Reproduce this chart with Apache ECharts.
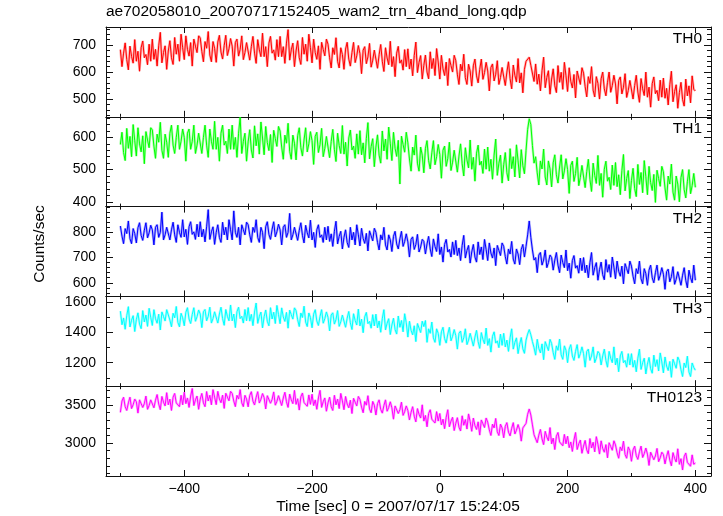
<!DOCTYPE html>
<html><head><meta charset="utf-8">
<script src="https://cdn.jsdelivr.net/npm/echarts@6/dist/echarts.min.js"></script>
<style>html,body{margin:0;padding:0;background:#fff}#c{width:723px;height:516px}</style>
</head><body><div id="c"></div>
<script>
// time grid of the light curve (sec from 2007/07/17 15:24:05)
const tStart = -500, tStep = 2.5;

const th0 = [
683,620,670,708,646,608,696,658,633,720,
640,677,603,690,715,653,665,627,703,640,
722,647,684,622,697,747,634,672,697,610,
678,716,653,628,728,666,703,640,740,690,
646,734,684,659,709,622,722,696,672,734,
726,676,638,713,688,750,663,638,713,688,
636,711,736,674,648,698,736,661,686,724,
696,622,709,722,659,684,734,646,672,709,
707,644,694,732,670,632,720,682,657,744,
657,694,620,707,732,670,682,644,720,657,
732,657,694,632,707,757,644,682,707,620,
678,716,653,628,728,666,703,640,740,690,
634,722,672,647,697,610,710,684,660,722,
703,653,615,690,665,727,640,615,690,665,
610,685,710,648,622,672,710,635,660,698,
668,594,681,694,631,656,706,618,644,681,
677,614,664,702,640,602,690,652,627,714,
620,657,583,670,695,633,645,607,683,620,
686,611,648,586,661,711,598,636,661,574,
625,663,600,575,675,613,650,587,687,637,
574,662,612,587,637,550,650,624,600,662,
642,592,554,629,604,666,579,554,629,604,
548,623,648,586,560,610,648,573,598,636,
604,530,617,630,567,592,642,554,580,617,
613,550,600,638,576,538,626,588,563,650,
560,597,523,610,640,640,655,625,622,565,
630,555,592,530,605,655,542,580,605,518,
574,612,549,524,624,562,599,536,636,586,
528,616,566,541,591,504,604,578,554,616,
596,546,508,583,558,620,533,508,583,558,
500,575,600,538,512,562,600,525,550,588,
556,482,569,582,519,544,594,506,532,569,
563,500,550,588,526,488,576,538,513,600,
507,544,470,557,582,520,532,494,570,507,
578,503,540,478,553,603,490,528,553,466,
524,562,499,474,574,512,549,486,586,536,
530];

const th1 = [
578,616,553,528,628,566,603,540,640,590,
542,630,580,555,605,518,618,592,568,630,
623,573,535,610,585,647,560,535,610,585,
538,613,638,576,550,600,638,563,588,626,
600,526,613,626,563,588,638,550,576,613,
613,550,600,638,576,538,626,588,563,650,
563,600,526,613,638,576,588,550,626,563,
638,563,600,538,613,663,550,588,613,526,
586,624,561,536,636,574,611,548,648,598,
546,634,584,559,609,522,622,596,572,634,
620,570,532,607,582,644,557,532,607,582,
530,605,630,568,542,592,630,555,580,618,
590,516,603,616,553,578,628,540,566,603,
600,537,587,625,563,525,613,575,550,637,
548,585,511,598,623,561,573,535,611,548,
621,546,583,521,596,646,533,571,596,509,
570,608,545,520,620,558,595,532,632,582,
528,616,566,541,591,455,604,578,554,616,
583,533,495,570,545,607,520,495,570,545,
490,565,590,528,502,552,590,515,540,578,
547,473,560,573,510,535,585,497,523,560,
555,492,542,580,518,480,568,530,505,592,
501,538,464,551,576,514,526,488,564,501,
570,495,532,470,545,595,482,520,545,458,
515,553,490,465,565,503,540,477,577,527,
474,562,512,487,560,625,658,640,575,520,
540,490,452,527,502,564,477,452,527,502,
446,521,546,484,458,508,546,471,496,534,
500,426,513,526,463,488,538,450,476,513,
507,444,494,532,470,432,520,482,457,544,
451,488,414,501,526,464,476,438,514,451,
522,447,484,422,497,547,434,472,497,410,
466,504,441,416,516,454,491,428,528,478,
422,510,460,435,485,398,498,472,448,510,
493,443,405,480,455,517,430,405,480,455,
400,475,500,438,412,462,500,425,450,488,
445];

const th2 = [
825,785,755,815,795,845,775,755,815,795,
758,818,838,788,768,808,838,778,798,828,
810,750,820,830,780,800,880,770,790,820,
820,770,810,840,790,760,830,800,780,850,
782,812,752,822,842,792,802,772,832,782,
842,782,812,762,822,890,772,802,822,752,
800,830,780,760,840,790,820,770,850,810,
770,885,800,780,820,750,830,810,790,840,
830,790,760,820,800,850,780,760,820,800,
735,822,842,792,772,812,842,782,802,832,
810,750,820,830,780,800,875,770,790,820,
818,768,808,838,788,758,828,798,778,848,
770,800,740,810,830,780,790,760,820,770,
824,764,794,744,804,844,754,784,804,734,
780,810,760,740,820,770,800,750,830,790,
746,816,776,756,796,726,806,786,766,816,
800,760,730,790,770,820,750,730,790,770,
724,784,804,754,734,774,804,744,764,794,
762,702,772,782,732,752,792,722,742,772,
764,714,754,784,734,704,774,744,724,794,
712,742,682,752,772,722,732,702,762,712,
768,708,738,688,748,788,698,728,748,678,
722,752,702,682,762,712,742,692,772,732,
688,758,718,698,738,668,748,728,708,758,
744,704,674,734,714,764,694,674,734,714,
672,732,752,702,745,790,845,780,730,690,
700,640,710,720,670,690,730,660,680,710,
700,650,690,720,670,640,710,680,660,730,
648,678,618,688,708,658,668,638,698,648,
700,640,670,620,680,720,630,660,680,610,
652,682,632,612,692,642,672,622,702,662,
616,686,646,626,666,596,676,656,636,686,
666,626,596,656,636,686,616,596,656,636,
590,650,670,620,600,640,670,610,630,660,
634,574,644,654,604,624,664,594,614,644,
640,590,630,660,610,580,650,620,600,670,
610];

const th3 = [
1542,1452,1497,1422,1512,1572,1437,1482,1512,1407,
1486,1531,1456,1426,1546,1471,1516,1441,1561,1501,
1447,1552,1492,1462,1522,1417,1537,1507,1477,1552,
1543,1483,1438,1528,1498,1573,1468,1438,1528,1498,
1445,1535,1565,1490,1460,1520,1565,1475,1505,1550,
1523,1433,1538,1553,1478,1508,1568,1463,1493,1538,
1538,1463,1523,1568,1493,1448,1553,1508,1478,1583,
1478,1523,1433,1538,1568,1493,1508,1463,1553,1478,
1566,1476,1521,1446,1536,1596,1461,1506,1536,1431,
1505,1550,1475,1445,1565,1490,1535,1460,1580,1520,
1459,1564,1504,1474,1534,1429,1549,1519,1489,1564,
1545,1485,1440,1530,1500,1575,1470,1440,1530,1500,
1432,1522,1552,1477,1447,1507,1552,1462,1492,1537,
1501,1411,1516,1531,1456,1486,1546,1441,1471,1516,
1510,1435,1495,1540,1465,1420,1525,1480,1450,1555,
1444,1489,1399,1504,1534,1459,1474,1429,1519,1444,
1522,1432,1477,1402,1492,1552,1417,1462,1492,1387,
1450,1495,1420,1390,1510,1435,1480,1405,1525,1465,
1370,1475,1415,1385,1445,1340,1460,1430,1400,1475,
1440,1480,1335,1425,1395,1470,1365,1335,1425,1395,
1315,1405,1435,1360,1330,1390,1435,1345,1375,1420,
1380,1290,1395,1410,1335,1365,1425,1320,1350,1395,
1385,1310,1370,1415,1340,1295,1400,1355,1325,1430,
1315,1360,1270,1375,1405,1330,1345,1300,1390,1315,
1395,1305,1350,1275,1365,1425,1290,1335,1365,1260,
1322,1367,1292,1262,1350,1390,1420,1385,1340,1300,
1250,1355,1295,1265,1325,1220,1340,1310,1280,1355,
1327,1267,1222,1312,1282,1357,1252,1222,1312,1282,
1200,1290,1320,1245,1215,1275,1320,1230,1260,1305,
1260,1170,1275,1290,1215,1245,1305,1200,1230,1275,
1260,1185,1245,1290,1215,1170,1275,1230,1200,1305,
1185,1230,1140,1245,1275,1200,1215,1170,1260,1185,
1260,1170,1215,1140,1230,1290,1155,1200,1230,1125,
1190,1235,1160,1130,1250,1175,1220,1145,1265,1205,
1133,1238,1178,1148,1208,1103,1223,1193,1163,1238,
1213,1153,1108,1198,1168,1243,1138,1108,1198,1168,
1150];

const th0123 = [
3405,3555,3605,3480,3430,3530,3605,3455,3505,3580,
3545,3395,3570,3595,3470,3520,3620,3445,3495,3570,
3590,3465,3565,3640,3515,3440,3615,3540,3490,3665,
3505,3580,3430,3605,3655,3530,3555,3480,3630,3505,
3670,3520,3595,3470,3620,3720,3495,3570,3620,3445,
3580,3655,3530,3480,3680,3555,3630,3505,3705,3605,
3507,3682,3582,3532,3632,3457,3657,3607,3557,3682,
3655,3555,3480,3630,3580,3705,3530,3480,3630,3580,
3478,3628,3678,3553,3503,3603,3678,3528,3578,3653,
3600,3450,3625,3650,3525,3575,3675,3500,3550,3625,
3620,3495,3595,3670,3545,3470,3645,3570,3520,3695,
3510,3585,3435,3610,3660,3535,3560,3485,3635,3510,
3645,3495,3570,3445,3595,3695,3470,3545,3595,3420,
3530,3605,3480,3430,3630,3505,3580,3455,3655,3555,
3440,3615,3515,3465,3565,3390,3590,3540,3490,3615,
3575,3475,3400,3550,3500,3625,3450,3400,3550,3500,
3370,3520,3570,3445,3395,3495,3570,3420,3470,3545,
3465,3315,3490,3515,3390,3440,3540,3365,3415,3490,
3430,3305,3405,3480,3355,3280,3455,3380,3330,3505,
3290,3365,3215,3390,3440,3315,3340,3265,3415,3290,
3390,3240,3315,3190,3340,3440,3215,3290,3340,3165,
3260,3335,3210,3160,3360,3235,3310,3185,3385,3285,
3155,3330,3230,3180,3280,3105,3305,3255,3205,3330,
3275,3175,3100,3250,3200,3325,3150,3100,3250,3200,
3070,3220,3270,3145,3095,3195,3270,3120,3170,3245,
3175,3025,3200,3225,3260,3380,3450,3370,3240,3110,
3130,3005,3105,3180,3055,2980,3155,3080,3030,3205,
2990,3065,2915,3090,3140,3015,3040,2965,3115,2990,
3090,2940,3015,2890,3040,3140,2915,2990,3040,2865,
2960,3035,2910,2860,3060,2935,3010,2885,3085,2985,
2855,3030,2930,2880,2980,2805,3005,2955,2905,3030,
2975,2875,2800,2950,2900,3025,2850,2800,2950,2900,
2760,2910,2960,2835,2785,2885,2960,2810,2860,2935,
2855,2705,2880,2905,2780,2830,2930,2755,2805,2880,
2850,2725,2825,2900,2775,2700,2875,2800,2750,2925,
2720,2795,2645,2820,2870,2745,2770,2695,2845,2720,
2740];

const panelNames = ['TH0','TH1','TH2','TH3','TH0123'];
const panelColors = ['#ff0000','#00ff00','#0000ff','#00ffff','#ff00ff'];
const xMajor = [-400,-200,0,200,400];
const xMinor = [-500,-300,-100,100,300];
const yMajor = [[500,600,700],[400,500,600],[600,700,800],[1200,1400,1600],[3000,3500]];
const yMinor = [
  [440,460,480,520,540,560,580,620,640,660,680,720,740,760],
  [420,440,460,480,520,540,560,580,620,640,660],
  [560,580,620,640,660,680,720,740,760,780,820,840,860,880,900],
  [1100,1300,1500],
  [2600,2700,2800,2900,3100,3200,3300,3400,3600,3700]];
const yRange = [[434.4,766.7],[385,664],[546,902],[1044,1640],[2566,3750]];
const xRange = [-522.5,424.5];

const seriesVals = [th0, th1, th2, th3, th0123];

const FONT = 'Liberation Sans, Arial, Helvetica, sans-serif';
const AX = '#111';
const L = 106, R = 711, TOP = 27, PH = 89.8;

const grid = [], xAxis = [], yAxis = [], series = [], graphic = [];
for (let i = 0; i < 5; i++) {
  const top = TOP + i * PH;
  grid.push({left: L, width: R - L, top: top, height: PH});
  const xBase = {gridIndex: i, type: 'value', min: xRange[0], max: xRange[1],
    splitLine: {show: false}, axisLabel: {show: false}};
  const mkX = (pos, vals, len, line, lab) => Object.assign({}, xBase, {
    position: pos,
    axisLine: {show: line, onZero: false, lineStyle: {color: AX, width: 1}},
    axisTick: {show: true, inside: true, length: len, customValues: vals, lineStyle: {color: AX, width: 1}},
    axisLabel: lab ? {show: true, customValues: xMajor, color: '#000', fontSize: 14, fontFamily: FONT, margin: 6,
      formatter: v => String(v).replace('-', '\u2212')} : {show: false}
  });
  const xi = xAxis.length;
  xAxis.push(mkX('bottom', xMajor, 6, true, i === 4));
  xAxis.push(mkX('bottom', xMinor, 3, false, false));
  xAxis.push(mkX('top', xMajor, 6, true, false));
  xAxis.push(mkX('top', xMinor, 3, false, false));
  const yBase = {gridIndex: i, type: 'value', min: yRange[i][0], max: yRange[i][1], splitLine: {show: false}};
  const mkY = (pos, vals, len, line, lab) => Object.assign({}, yBase, {
    position: pos,
    axisLine: {show: line, onZero: false, lineStyle: {color: AX, width: 1}},
    axisTick: {show: true, inside: true, length: len, customValues: vals, lineStyle: {color: AX, width: 1}},
    axisLabel: lab ? {show: true, customValues: yMajor[i], color: '#000', fontSize: 14, fontFamily: FONT, margin: 10,
      formatter: v => String(v)} : {show: false}
  });
  const yi = yAxis.length;
  yAxis.push(mkY('left', yMajor[i], 7, true, true));
  yAxis.push(mkY('left', yMinor[i], 4, false, false));
  yAxis.push(mkY('right', yMajor[i], 7, true, false));
  yAxis.push(mkY('right', yMinor[i], 4, false, false));

  const data = seriesVals[i].map((v, k) => [tStart + k * tStep, v]);
  series.push({type: 'line', xAxisIndex: xi, yAxisIndex: yi, data: data, showSymbol: false, silent: true,
    lineStyle: {color: panelColors[i], width: 2.5, opacity: 0.3}, z: 1});
  series.push({type: 'line', xAxisIndex: xi, yAxisIndex: yi, data: data, showSymbol: false, silent: true,
    lineStyle: {color: panelColors[i], width: 1}, z: 2});

  graphic.push({type: 'text', right: 723 - 702, top: top + 4, z: 10,
    style: {text: panelNames[i], fontSize: 15.5, fontFamily: FONT, fill: '#000'}});
}

graphic.push({type: 'text', left: 106, top: 4,
  style: {text: 'ae702058010_20070717152405_wam2_trn_4band_long.qdp', fontSize: 15.5, fontFamily: FONT, fill: '#000'}});
graphic.push({type: 'text', x: 398, y: 507,
  style: {text: 'Time [sec] 0 = 2007/07/17 15:24:05', fontSize: 15.5, fontFamily: FONT, fill: '#000',
    textAlign: 'center', textVerticalAlign: 'middle'}});
graphic.push({type: 'text', x: 40, y: 244, rotation: Math.PI / 2,
  style: {text: 'Counts/sec', fontSize: 15.5, fontFamily: FONT, fill: '#000',
    textAlign: 'center', textVerticalAlign: 'middle'}});

const chart = echarts.init(document.getElementById('c'), null, {renderer: 'canvas'});
chart.setOption({animation: false, backgroundColor: '#fff', grid, xAxis, yAxis, series, graphic});
</script></body></html>
